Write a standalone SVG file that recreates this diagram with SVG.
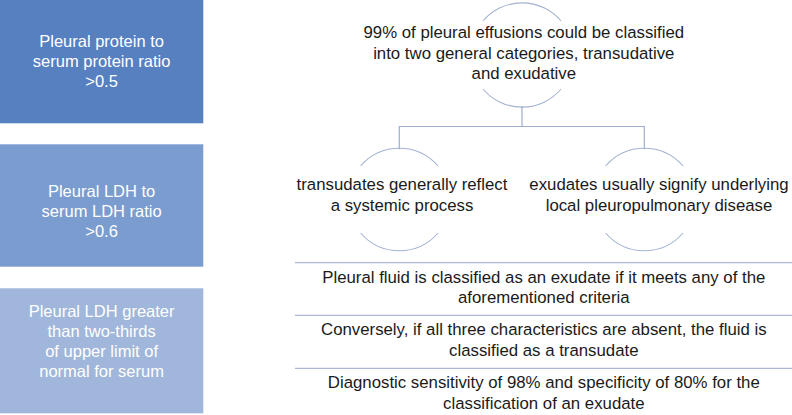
<svg xmlns="http://www.w3.org/2000/svg" width="792" height="415" viewBox="0 0 792 415">
<style>
.bt{font-family:"Liberation Sans",Arial,Helvetica,sans-serif;font-size:16.5px;fill:#ffffff;text-anchor:middle}
.tx{font-family:"Liberation Sans",Arial,Helvetica,sans-serif;font-size:16.8px;fill:#1a1a1a;text-anchor:middle}
.arc{fill:none;stroke:#a4b3d1;stroke-width:1.1}
.con{fill:none;stroke:#9dadcc;stroke-width:1.2}
.sep{stroke:#aab8d3;stroke-width:1.2}
</style>
<rect width="792" height="415" fill="#ffffff"/>
<g id="box1">
<rect x="0" y="0" width="203.3" height="123.3" fill="#5680c0"/>
<text class="bt" x="101.6" y="46.7">Pleural protein to</text>
<text class="bt" x="101.6" y="66.9">serum protein ratio</text>
<text class="bt" x="101.6" y="87.1">&gt;0.5</text>
</g>
<g id="box2">
<rect x="0" y="144.3" width="203.3" height="122.4" fill="#7a9cce"/>
<text class="bt" x="101.6" y="197.3">Pleural LDH to</text>
<text class="bt" x="101.6" y="217.3">serum LDH ratio</text>
<text class="bt" x="101.6" y="237.3">&gt;0.6</text>
</g>
<g id="box3">
<rect x="0" y="288.3" width="203.3" height="125" fill="#a0b6da"/>
<text class="bt" x="101.6" y="316.7">Pleural LDH greater</text>
<text class="bt" x="101.6" y="336.7">than two-thirds</text>
<text class="bt" x="101.6" y="356.7">of upper limit of</text>
<text class="bt" x="101.6" y="376.7">normal for serum</text>
</g>
<g id="connectors">
<path class="con" d="M522,106 V126.5 M399.3,149.3 V126.5 H644.3 V149.3"/>
</g>
<g id="top">
<path class="arc" d="M483,21 A51 51 0 0 1 561,21"/>
<path class="arc" d="M483,89 A51 51 0 0 0 561,89"/>
<text class="tx" x="523.8" y="38.3">99% of pleural effusions could be classified</text>
<text class="tx" x="523.8" y="58.8">into two general categories, transudative</text>
<text class="tx" x="523.8" y="79.3">and exudative</text>
</g>
<g id="transudates">
<path class="arc" d="M360.6,166 A51 51 0 0 1 438,166"/>
<path class="arc" d="M360.6,233 A51 51 0 0 0 438,233"/>
<text class="tx" x="402" y="190">transudates generally reflect</text>
<text class="tx" x="402" y="210.5">a systemic process</text>
</g>
<g id="exudates">
<path class="arc" d="M605.6,166 A51 51 0 0 1 683,166"/>
<path class="arc" d="M605.6,233 A51 51 0 0 0 683,233"/>
<text class="tx" x="659" y="190">exudates usually signify underlying</text>
<text class="tx" x="659" y="210.5">local pleuropulmonary disease</text>
</g>
<g id="row1">
<line class="sep" x1="295" y1="262.7" x2="792" y2="262.7"/>
<text class="tx" x="543.8" y="282.7">Pleural fluid is classified as an exudate if it meets any of the</text>
<text class="tx" x="543.8" y="303.2">aforementioned criteria</text>
</g>
<g id="row2">
<line class="sep" x1="295" y1="315.3" x2="792" y2="315.3"/>
<text class="tx" x="543.8" y="335.3">Conversely, if all three characteristics are absent, the fluid is</text>
<text class="tx" x="543.8" y="355.8">classified as a transudate</text>
</g>
<g id="row3">
<line class="sep" x1="295" y1="368.3" x2="792" y2="368.3"/>
<text class="tx" x="543.8" y="388.3">Diagnostic sensitivity of 98% and specificity of 80% for the</text>
<text class="tx" x="543.8" y="408.8">classification of an exudate</text>
</g>
</svg>
